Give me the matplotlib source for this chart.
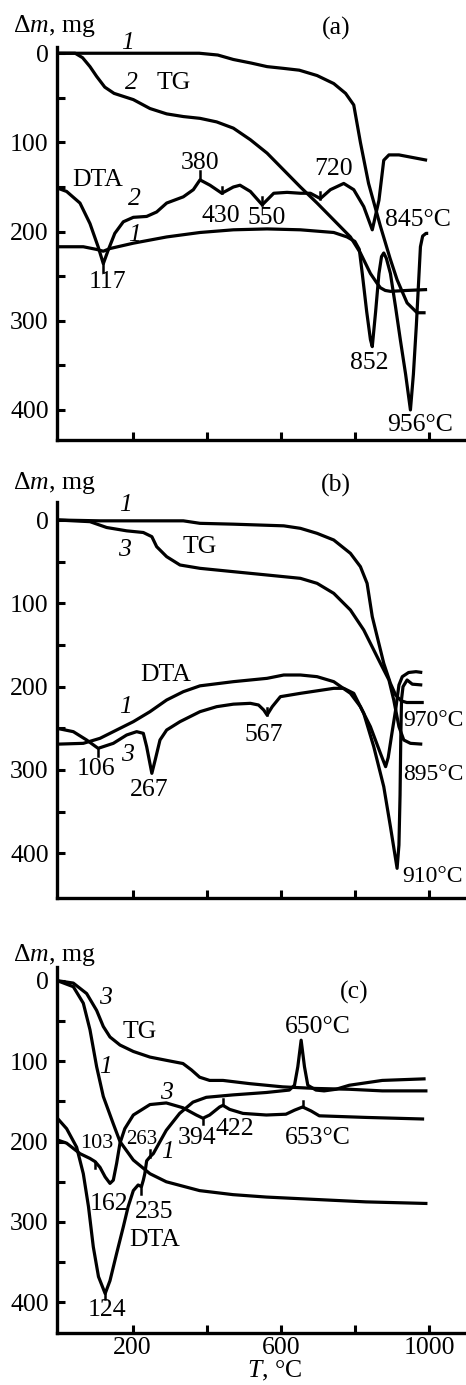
import numpy as np
import matplotlib
matplotlib.use('Agg')
import matplotlib.pyplot as plt

plt.rcParams['font.family'] = ['Liberation Serif', 'DejaVu Serif']
plt.rcParams['mathtext.fontset'] = 'custom'
plt.rcParams['mathtext.rm'] = 'Liberation Serif'
plt.rcParams['mathtext.it'] = 'Liberation Serif:italic'

# ---------------- Panel (a) ----------------
a_tg1_T = [0, 100, 200, 300, 380, 430, 472, 520, 563, 608, 650, 698, 743, 775, 797, 815, 837, 869, 895, 914, 941, 968, 991]
a_tg1_m = [0, 0, 0, 0, 0, 2, 7, 11, 15, 17, 19, 25, 34, 45, 58, 100, 146, 194, 230, 254, 280, 291, 291]

a_tg2_T = [-4, 45, 65, 85, 103, 125, 150, 202, 247, 292, 337, 382, 427, 472, 518, 563, 608, 653, 698, 743, 788, 815, 842, 860, 869, 882, 896, 940, 995]
a_tg2_m = [0, 0, 5, 15, 26, 38, 45, 52, 62, 68, 71, 73, 77, 84, 97, 112, 131, 150, 168, 187, 206, 224, 247, 258, 263, 266, 267, 266, 265]

a_dta1_T = [-4, 67, 103, 121, 139, 202, 292, 382, 472, 563, 653, 743, 779, 800, 812, 820, 832, 842, 847, 856, 865, 872, 878, 885, 896, 910, 923, 937, 950, 958, 966, 977, 983, 992, 998]
a_dta1_m = [217, 217, 220, 222, 219, 213, 206, 201, 198, 197, 198, 201, 206, 211, 220, 247, 290, 321, 329, 290, 247, 228, 224, 230, 247, 285, 322, 360, 400, 360, 305, 217, 205, 202, 202]

a_dta2_T = [-4, 22, 58, 85, 107, 121, 134, 152, 175, 202, 238, 265, 292, 337, 364, 382, 409, 441, 472, 490, 518, 550, 581, 617, 653, 680, 707, 734, 770, 797, 824, 847, 865, 878, 892, 919, 995]
a_dta2_m = [151, 155, 168, 191, 217, 236, 221, 202, 189, 184, 183, 178, 168, 161, 153, 142, 148, 157, 150, 148, 155, 170, 157, 156, 157, 157, 163, 153, 146, 153, 172, 198, 165, 120, 114, 114, 120]

# ---------------- Panel (b) ----------------
b_tg1_T = [-4, 112, 337, 382, 472, 608, 653, 698, 743, 788, 815, 833, 847, 878, 896, 910, 925, 940, 960, 986]
b_tg1_m = [0, 1, 1, 4, 5, 7, 10, 16, 24, 40, 56, 76, 116, 172, 196, 210, 217, 219, 219, 219]

b_tg3_T = [-4, 85, 130, 184, 229, 252, 265, 292, 328, 382, 472, 563, 653, 698, 743, 788, 824, 851, 869, 892, 905, 919, 932, 950, 982]
b_tg3_m = [0, 2, 9, 13, 15, 20, 32, 44, 54, 58, 62, 66, 70, 76, 88, 108, 132, 156, 172, 192, 216, 248, 264, 268, 269]

b_dta1_T = [-4, 67, 112, 202, 247, 292, 337, 382, 472, 563, 608, 653, 698, 743, 788, 815, 842, 869, 883, 890, 900, 910, 919, 928, 945, 965, 982]
b_dta1_m = [269, 268, 262, 242, 230, 216, 206, 199, 194, 190, 186, 186, 188, 194, 208, 224, 248, 280, 296, 285, 256, 228, 198, 188, 183, 182, 183]

b_dta3_T = [-4, 40, 76, 107, 148, 184, 211, 229, 238, 252, 261, 274, 292, 328, 382, 427, 472, 518, 540, 554, 563, 577, 599, 653, 743, 770, 797, 824, 851, 878, 896, 914, 919, 922, 924, 926, 930, 941, 955, 982]
b_dta3_m = [250, 254, 264, 274, 268, 258, 254, 256, 272, 304, 288, 264, 252, 242, 230, 224, 221, 220, 222, 228, 234, 224, 212, 208, 202, 202, 208, 232, 272, 320, 368, 418, 390, 330, 260, 215, 200, 192, 197, 198]

# ---------------- Panel (c) ----------------
c_tg3_T = [-3, 40, 76, 103, 121, 139, 166, 202, 247, 291, 336, 359, 381, 408, 444, 516, 605, 695, 785, 874, 996]
c_tg3_m = [0, 3, 16, 37, 57, 70, 80, 88, 95, 99, 103, 111, 120, 124, 124, 128, 132, 134, 135, 137, 137]

c_tg1_T = [-3, 40, 67, 85, 103, 121, 148, 166, 202, 247, 291, 381, 471, 561, 650, 740, 830, 996]
c_tg1_m = [0, 7.5, 28, 61, 107, 144, 178, 200, 223, 240, 250, 261, 266, 269, 271, 273, 275, 277]

c_dta1_T = [-3, 22, 49, 67, 81, 94, 108, 126, 139, 157, 175, 188, 202, 215, 224, 229, 233, 238, 247, 256, 274, 291, 327, 363, 399, 471, 561, 623, 637, 646, 655, 664, 673, 695, 717, 749, 785, 874, 991]
c_dta1_m = [171, 184, 207, 240, 281, 331, 368, 389, 373, 339, 306, 281, 261, 254, 256, 248, 240, 224, 219, 215, 200, 186, 165, 151, 145, 142, 139, 136, 130, 107, 74, 107, 130, 136, 137, 135, 130, 124, 122]

c_dta3_T = [-3, 22, 58, 85, 99, 112, 126, 139, 148, 157, 166, 179, 202, 247, 291, 336, 372, 390, 408, 435, 444, 462, 498, 561, 614, 637, 659, 682, 704, 830, 987]
c_dta3_m = [198, 202, 215, 221, 225, 232, 244, 252, 248, 227, 202, 184, 167, 154, 152, 158, 167, 171, 167, 157, 155, 160, 165, 167, 166, 161, 157, 162, 168, 170, 172]

y_major = [0, 100, 200, 300, 400]
y_minor = [50, 150, 250, 350]
x_ticks = [200, 400, 600, 800, 1000]
x_ticklabels_c = ['200', '', '600', '', '1000']

W, H = 466, 1385
fig = plt.figure(figsize=(W / 100, H / 100), dpi=100)

LW = 2.3
FS = 18.5


def add_ax(top, bottom, ylim):
    ax = fig.add_axes([57 / W, 1 - bottom / H, (W - 57) / W, (bottom - top) / H])
    ax.set_xlim(-4, 1100)
    ax.set_ylim(*ylim)
    for s in ['top', 'right']:
        ax.spines[s].set_visible(False)
    for s in ['left', 'bottom']:
        ax.spines[s].set_linewidth(2.4)
    ax.set_yticks(y_major)
    ax.set_yticks(y_minor, minor=True)
    ax.set_xticks(x_ticks)
    ax.tick_params(axis='both', which='both', direction='in', length=6, width=2.2,
                   labelsize=18.5, pad=6)
    ax.tick_params(axis='x', pad=3)
    ax.set_xticklabels([])
    return ax


def curve(ax, T, m):
    ax.plot(T, m, color='black', lw=LW, solid_joinstyle='round', solid_capstyle='butt', clip_on=False)


def mark(ax, T, m, t0, d):
    y0 = np.interp(t0, T, m)
    ax.plot([t0, t0], [y0, y0 + d], color='black', lw=1.8)


def lbl(ax, x, y, s, fs=FS, it=False, ha='center'):
    ax.text(x, y, s, fontsize=fs, ha=ha, va='center', style='italic' if it else 'normal')


# ---- (a)
axa = add_ax(47, 440, (433.7, -7))
for T, m in [(a_tg1_T, a_tg1_m), (a_tg2_T, a_tg2_m), (a_dta1_T, a_dta1_m), (a_dta2_T, a_dta2_m)]:
    curve(axa, T, m)
mark(axa, a_dta2_T, a_dta2_m, 121, 9)
mark(axa, a_dta2_T, a_dta2_m, 382, -10)
mark(axa, a_dta2_T, a_dta2_m, 441, -7)
mark(axa, a_dta2_T, a_dta2_m, 550, -9)
mark(axa, a_dta2_T, a_dta2_m, 707, -7)
lbl(axa, 185, -11.5, '1', it=True)
lbl(axa, 198, 33, '2', it=True)
lbl(axa, 312, 33, 'TG')
lbl(axa, 106, 142, 'DTA')
lbl(axa, 206, 164, '2', it=True)
lbl(axa, 206, 204, '1', it=True)
lbl(axa, 131, 257, '117')
lbl(axa, 382, 123, '380')
lbl(axa, 439, 182, '430')
lbl(axa, 563, 185, '550')
lbl(axa, 742, 130, '720')
lbl(axa, 881, 187, '845°C', ha='left')
lbl(axa, 839, 347, '852')
lbl(axa, 886, 417, '956°C', ha='left')
lbl(axa, 750, -28, '(a)')

# ---- (b)
axb = add_ax(502, 898, (453.6, -21.6))
for T, m in [(b_tg1_T, b_tg1_m), (b_tg3_T, b_tg3_m), (b_dta1_T, b_dta1_m), (b_dta3_T, b_dta3_m)]:
    curve(axb, T, m)
mark(axb, b_dta3_T, b_dta3_m, 107, 9)
mark(axb, b_dta3_T, b_dta3_m, 563, -8)
lbl(axb, 748, -42, '(b)')
lbl(axb, 182, -18, '1', it=True)
lbl(axb, 177, 36, '3', it=True)
lbl(axb, 380, 32, 'TG')
lbl(axb, 290, 186, 'DTA')
lbl(axb, 182, 224, '1', it=True)
lbl(axb, 185, 282, '3', it=True)
lbl(axb, 101, 299, '106')
lbl(axb, 244, 324, '267')
lbl(axb, 553, 258, '567')
lbl(axb, 930, 240, '970°C', fs=17, ha='left')
lbl(axb, 930, 305, '895°C', fs=17, ha='left')
lbl(axb, 928, 428, '910°C', fs=17, ha='left')

# ---- (c)
axc = add_ax(967, 1333, (438, -17))
for T, m in [(c_tg3_T, c_tg3_m), (c_tg1_T, c_tg1_m), (c_dta1_T, c_dta1_m), (c_dta3_T, c_dta3_m)]:
    curve(axc, T, m)
mark(axc, c_dta3_T, c_dta3_m, 99, 8)
mark(axc, c_dta1_T, c_dta1_m, 224, 9)
mark(axc, c_dta1_T, c_dta1_m, 247, -9)
mark(axc, c_dta3_T, c_dta3_m, 390, 7)
mark(axc, c_dta3_T, c_dta3_m, 444, -8)
mark(axc, c_dta3_T, c_dta3_m, 659, -7)
mark(axc, c_dta1_T, c_dta1_m, 126, 7)
axc.set_xticklabels(x_ticklabels_c)
lbl(axc, 798, 15, '(c)')
lbl(axc, 126, 21, '3', it=True)
lbl(axc, 220, 64, 'TG')
lbl(axc, 128, 107, '1', it=True)
lbl(axc, 701, 58, '650°C')
lbl(axc, 292, 140, '3', it=True)
lbl(axc, 104, 202, '103', fs=16)
lbl(axc, 225, 197, '263', fs=15)
lbl(axc, 373, 196, '394')
lbl(axc, 475, 185, '422')
lbl(axc, 701, 195, '653°C')
lbl(axc, 295, 213, '1', it=True)
lbl(axc, 136, 278, '162')
lbl(axc, 258, 287, '235')
lbl(axc, 260, 323, 'DTA')
lbl(axc, 131, 410, '124')

# y-axis titles and x label
for py in [26, 483, 955]:
    fig.text(13 / W, 1 - py / H, 'Δ$m$, mg', fontsize=FS, ha='left', va='center')
fig.text(275 / W, 1 - 1371 / H, '$T$, °C', fontsize=FS, ha='center', va='center')

fig.savefig('out.png', dpi=100)
